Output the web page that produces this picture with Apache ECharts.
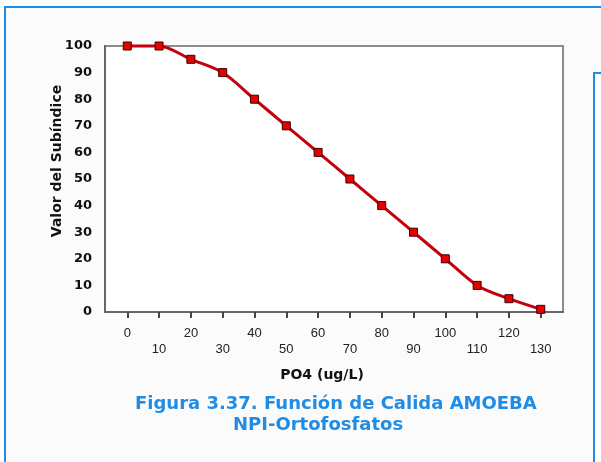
<!DOCTYPE html>
<html>
<head>
<meta charset="utf-8">
<script src="https://cdn.jsdelivr.net/npm/echarts@6/dist/echarts.min.js"></script>
<style>
html,body{margin:0;padding:0;background:#fff;}
#c{width:601px;height:462px;}
</style>
</head>
<body>
<div id="c"></div>
<script>
// Data
const xValues = [0, 10, 20, 30, 40, 50, 60, 70, 80, 90, 100, 110, 120, 130];
const yValues = [100, 100, 95, 90, 80, 70, 60, 50, 40, 30, 20, 10, 5, 1];
const xTicks = [0, 10, 20, 30, 40, 50, 60, 70, 80, 90, 100, 110, 120, 130];
const yTicks = [0, 10, 20, 30, 40, 50, 60, 70, 80, 90, 100];
const yAxisTitle = 'Valor del Subíndice';
const xAxisTitle = 'PO4 (ug/L)';
const captionLine1 = 'Figura 3.37. Función de Calida AMOEBA';
const captionLine2 = 'NPI-Ortofosfatos';

const chart = echarts.init(document.getElementById('c'), null, {renderer: 'canvas'});
const seriesData = xValues.map((x, i) => [x, yValues[i]]);
const blue = '#1f8ce6';

chart.setOption({
  animation: false,
  backgroundColor: '#ffffff',
  graphic: [
    {type: 'rect', z: -10, silent: true, shape: {x: 5, y: 7, width: 620, height: 480},
     style: {fill: '#fbfbfb', stroke: blue, lineWidth: 2}},
    {type: 'rect', z: -9, silent: true, shape: {x: 594, y: 73, width: 40, height: 420},
     style: {fill: '#ffffff', stroke: blue, lineWidth: 2}}
  ],
  title: [
    {text: captionLine1, left: 130, top: 390,
     textStyle: {fontFamily: 'DejaVu Sans', fontWeight: 'bold', fontSize: 18, color: blue}},
    {text: captionLine2, left: 228, top: 411,
     textStyle: {fontFamily: 'DejaVu Sans', fontWeight: 'bold', fontSize: 18, color: blue}}
  ],
  grid: {left: 105, right: 38, top: 46, bottom: 150, show: true,
         backgroundColor: '#ffffff', borderColor: '#8c8c8c', borderWidth: 2},
  xAxis: {
    type: 'value', min: -7, max: 137,
    name: xAxisTitle, nameLocation: 'middle', nameGap: 56, nameMoveOverlap: false,
    nameTextStyle: {fontFamily: 'DejaVu Sans', fontWeight: 'bold', fontSize: 14, color: '#111', padding: [0, 24, 0, 0]},
    axisLine: {show: true, onZero: false, lineStyle: {color: '#666', width: 2}},
    axisTick: {show: true, customValues: xTicks, length: 6, lineStyle: {color: '#444', width: 2}},
    axisLabel: {customValues: xTicks, margin: 13, fontFamily: 'Liberation Sans', fontSize: 13, color: '#222', lineHeight: 16,
      formatter: function (v) { return ((v / 10) % 2 === 1) ? '\n' + v : String(v); }},
    splitLine: {show: false}
  },
  yAxis: {
    type: 'value', min: yTicks[0], max: yTicks[yTicks.length - 1], interval: 10,
    name: yAxisTitle, nameLocation: 'middle', nameGap: 41, nameRotate: 90, nameMoveOverlap: false,
    nameTextStyle: {fontFamily: 'DejaVu Sans', fontWeight: 'bold', fontSize: 14, color: '#111', padding: [0, 0, 0, 36]},
    axisLine: {show: true, onZero: false, lineStyle: {color: '#666', width: 2}},
    axisTick: {show: false},
    axisLabel: {margin: 13, fontFamily: 'DejaVu Sans', fontWeight: 'bold', fontSize: 13, color: '#111'},
    splitLine: {show: false}
  },
  series: [{
    type: 'line', data: seriesData, smooth: 0.3, clip: false,
    symbol: 'rect', symbolSize: 8,
    lineStyle: {color: '#c4000c', width: 3},
    itemStyle: {color: '#e60000', borderColor: '#3a0000', borderWidth: 1}
  }]
});
</script>
</body>
</html>
